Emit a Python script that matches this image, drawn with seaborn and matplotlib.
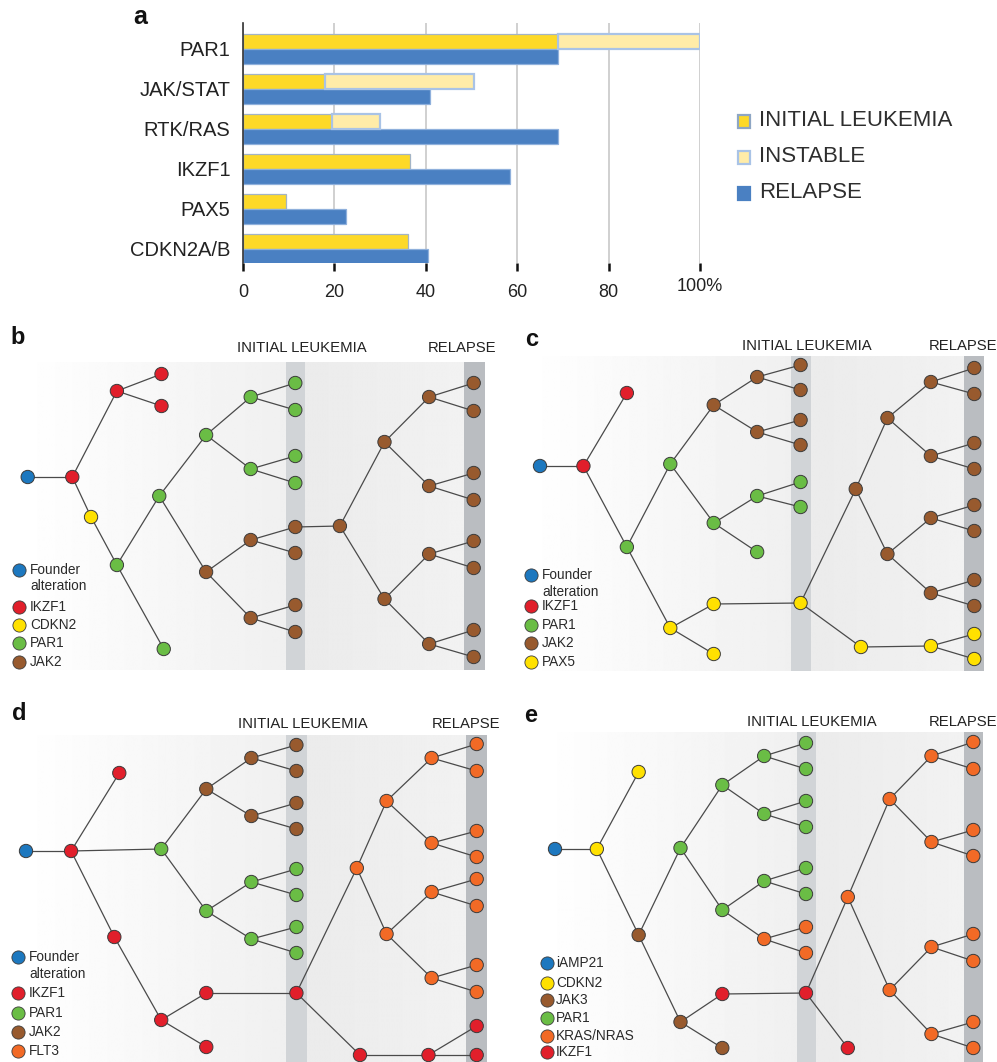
import numpy as np
import pandas as pd
import matplotlib
matplotlib.use("Agg")
import matplotlib.pyplot as plt
import seaborn as sns
from matplotlib.collections import LineCollection
from matplotlib.patches import Rectangle
from matplotlib.transforms import ScaledTranslation

sns.set_theme(style="white")
plt.rcParams['font.family'] = ['Liberation Sans', 'DejaVu Sans']

W, H, DPI = 997, 1062, 100

# ---------------- panel a: alteration frequencies ----------------
pathways = ['PAR1', 'JAK/STAT', 'RTK/RAS', 'IKZF1', 'PAX5', 'CDKN2A/B']
initial_pct = [69, 18, 19.5, 36.5, 9.5, 36]
instable_end_pct = [100, 50.5, 30, 0, 0, 0]      # 0 = no instable segment
relapse_pct = [69, 41, 69, 58.5, 22.5, 40.5]
x_ticks = [0, 20, 40, 60, 80, 100]
x_tick_labels = ['0', '20', '40', '60', '80', '100%']
stage_labels = ['INITIAL LEUKEMIA', 'INSTABLE', 'RELAPSE']

# ---------------- panels b-e: clonal evolution trees ----------------
# node = (generation, vertical position, alteration, parent index)
tree_b = [
    (0, 477, 'Founder', None), (1, 477, 'IKZF1', 0), (2, 391, 'IKZF1', 1),
    (3, 374, 'IKZF1', 2), (3, 406, 'IKZF1', 2), (1.42, 517, 'CDKN2', 1),
    (2, 565, 'PAR1', 5), (3.05, 649, 'PAR1', 6), (2.95, 496, 'PAR1', 6),
    (4, 435, 'PAR1', 8), (5, 397, 'PAR1', 9), (6, 383, 'PAR1', 10),
    (6, 410, 'PAR1', 10), (5, 469, 'PAR1', 9), (6, 456, 'PAR1', 13),
    (6, 483, 'PAR1', 13), (4, 572, 'JAK2', 8), (5, 540, 'JAK2', 16),
    (6, 527, 'JAK2', 17), (6, 553, 'JAK2', 17), (5, 618, 'JAK2', 16),
    (6, 605, 'JAK2', 20), (6, 632, 'JAK2', 20), (7, 526, 'JAK2', 18),
    (8, 442, 'JAK2', 23), (9, 397, 'JAK2', 24), (10, 383, 'JAK2', 25),
    (10, 411, 'JAK2', 25), (9, 486, 'JAK2', 24), (10, 473, 'JAK2', 28),
    (10, 500, 'JAK2', 28), (8, 599, 'JAK2', 23), (9, 554, 'JAK2', 31),
    (10, 541, 'JAK2', 32), (10, 568, 'JAK2', 32), (9, 644, 'JAK2', 31),
    (10, 630, 'JAK2', 35), (10, 657, 'JAK2', 35),
]
tree_c = [
    (0, 466, 'Founder', None), (1, 466, 'IKZF1', 0), (2, 393, 'IKZF1', 1),
    (2, 547, 'PAR1', 1), (3, 464, 'PAR1', 3), (4, 405, 'JAK2', 4),
    (5, 377, 'JAK2', 5), (6, 365, 'JAK2', 6), (6, 390, 'JAK2', 6),
    (5, 432, 'JAK2', 5), (6, 420, 'JAK2', 9), (6, 445, 'JAK2', 9),
    (4, 523, 'PAR1', 4), (5, 496, 'PAR1', 12), (6, 482, 'PAR1', 13),
    (6, 507, 'PAR1', 13), (5, 552, 'PAR1', 12), (3, 628, 'PAX5', 3),
    (4, 604, 'PAX5', 17), (4, 654, 'PAX5', 17), (6, 603, 'PAX5', 18),
    (7.27, 489, 'JAK2', 20), (8, 418, 'JAK2', 21), (9, 382, 'JAK2', 22),
    (10, 368, 'JAK2', 23), (10, 394, 'JAK2', 23), (9, 456, 'JAK2', 22),
    (10, 443, 'JAK2', 26), (10, 469, 'JAK2', 26), (8, 554, 'JAK2', 21),
    (9, 518, 'JAK2', 29), (10, 505, 'JAK2', 30), (10, 531, 'JAK2', 30),
    (9, 593, 'JAK2', 29), (10, 580, 'JAK2', 33), (10, 606, 'JAK2', 33),
    (7.39, 647, 'PAX5', 20), (9, 646, 'PAX5', 36), (10, 634, 'PAX5', 37),
    (10, 659, 'PAX5', 37),
]
tree_d = [
    (0, 851, 'Founder', None), (1, 851, 'IKZF1', 0), (2.07, 773, 'IKZF1', 1),
    (3, 849, 'PAR1', 1), (4, 789, 'JAK2', 3), (5, 758, 'JAK2', 4),
    (6, 745, 'JAK2', 5), (6, 771, 'JAK2', 5), (5, 816, 'JAK2', 4),
    (6, 803, 'JAK2', 8), (6, 829, 'JAK2', 8), (4, 911, 'PAR1', 3),
    (5, 882, 'PAR1', 11), (6, 869, 'PAR1', 12), (6, 895, 'PAR1', 12),
    (5, 939, 'PAR1', 11), (6, 927, 'PAR1', 15), (6, 953, 'PAR1', 15),
    (1.96, 937, 'IKZF1', 1), (3, 1020, 'IKZF1', 18), (4, 993, 'IKZF1', 19),
    (4, 1047, 'IKZF1', 19), (6, 993, 'IKZF1', 20), (7.34, 868, 'FLT3', 22),
    (8, 801, 'FLT3', 23), (9, 758, 'FLT3', 24), (10, 744, 'FLT3', 25),
    (10, 771, 'FLT3', 25), (9, 843, 'FLT3', 24), (10, 831, 'FLT3', 28),
    (10, 857, 'FLT3', 28), (8, 934, 'FLT3', 23), (9, 892, 'FLT3', 31),
    (10, 879, 'FLT3', 32), (10, 906, 'FLT3', 32), (9, 978, 'FLT3', 31),
    (10, 965, 'FLT3', 35), (10, 992, 'FLT3', 35), (7.41, 1055, 'IKZF1', 22),
    (8.93, 1055, 'IKZF1', 38), (10, 1026, 'IKZF1', 39), (10, 1055, 'IKZF1', 39),
]
tree_e = [
    (0, 849, 'iAMP21', None), (1, 849, 'CDKN2', 0), (2, 772, 'CDKN2', 1),
    (2, 935, 'JAK3', 1), (3, 848, 'PAR1', 3), (4, 785, 'PAR1', 4),
    (5, 756, 'PAR1', 5), (6, 743, 'PAR1', 6), (6, 769, 'PAR1', 6),
    (5, 814, 'PAR1', 5), (6, 801, 'PAR1', 9), (6, 827, 'PAR1', 9),
    (4, 910, 'PAR1', 4), (5, 881, 'PAR1', 12), (6, 868, 'PAR1', 13),
    (6, 894, 'PAR1', 13), (5, 939, 'KRAS/NRAS', 12), (6, 927, 'KRAS/NRAS', 16),
    (6, 953, 'KRAS/NRAS', 16), (3, 1022, 'JAK3', 3), (4, 994, 'IKZF1', 19),
    (4, 1048, 'JAK3', 19), (6, 993, 'IKZF1', 20), (7, 897, 'KRAS/NRAS', 22),
    (7, 1048, 'IKZF1', 22), (8, 799, 'KRAS/NRAS', 23), (9, 756, 'KRAS/NRAS', 25),
    (10, 742, 'KRAS/NRAS', 26), (10, 769, 'KRAS/NRAS', 26), (9, 842, 'KRAS/NRAS', 25),
    (10, 830, 'KRAS/NRAS', 29), (10, 856, 'KRAS/NRAS', 29), (8, 990, 'KRAS/NRAS', 23),
    (9, 947, 'KRAS/NRAS', 32), (10, 934, 'KRAS/NRAS', 33), (10, 961, 'KRAS/NRAS', 33),
    (9, 1034, 'KRAS/NRAS', 32), (10, 1022, 'KRAS/NRAS', 36), (10, 1048, 'KRAS/NRAS', 36),
]
legend_b = [('Founder', 'Founder\nalteration'), ('IKZF1', 'IKZF1'), ('CDKN2', 'CDKN2'),
            ('PAR1', 'PAR1'), ('JAK2', 'JAK2')]
legend_c = [('Founder', 'Founder\nalteration'), ('IKZF1', 'IKZF1'), ('PAR1', 'PAR1'),
            ('JAK2', 'JAK2'), ('PAX5', 'PAX5')]
legend_d = [('Founder', 'Founder\nalteration'), ('IKZF1', 'IKZF1'), ('PAR1', 'PAR1'),
            ('JAK2', 'JAK2'), ('FLT3', 'FLT3')]
legend_e = [('iAMP21', 'iAMP21'), ('CDKN2', 'CDKN2'), ('JAK3', 'JAK3'),
            ('PAR1', 'PAR1'), ('KRAS/NRAS', 'KRAS/NRAS'), ('IKZF1', 'IKZF1')]

gene_colors = {
    'Founder': '#1d78bf', 'iAMP21': '#1d78bf', 'IKZF1': '#e11f2b',
    'CDKN2': '#ffe100', 'PAX5': '#ffe100', 'PAR1': '#6abd45',
    'JAK2': '#985a2e', 'JAK3': '#985a2e', 'FLT3': '#f26a26', 'KRAS/NRAS': '#f26a26',
}

# panel geometry in figure pixels
panels = [
    dict(tree=tree_b, legend=legend_b, letter='b', letter_xy=(18, 338),
         x0=27.7, step=44.6, bg=(20, 362, 670), init=(286, 305), rel=(464, 485),
         head_y=348, head_init=302, head_rel=462,
         leg_mx=19, leg_tx=30, leg_y=[570, 607, 625, 643, 662]),
    dict(tree=tree_c, legend=legend_c, letter='c', letter_xy=(532, 340),
         x0=540, step=43.43, bg=(525, 356, 671), init=(791, 811), rel=(964, 984),
         head_y=346, head_init=807, head_rel=963,
         leg_mx=531, leg_tx=542, leg_y=[575, 606, 625, 643, 662]),
    dict(tree=tree_d, legend=legend_d, letter='d', letter_xy=(19, 714),
         x0=26, step=45.07, bg=(20, 735, 1062), init=(286, 307), rel=(466, 487),
         head_y=724, head_init=303, head_rel=466,
         leg_mx=18, leg_tx=29, leg_y=[957, 993, 1013, 1032, 1051]),
    dict(tree=tree_e, legend=legend_e, letter='e', letter_xy=(531, 715),
         x0=555, step=41.83, bg=(540, 732, 1062), init=(797, 816), rel=(964, 983),
         head_y=722, head_init=812, head_rel=963,
         leg_mx=547, leg_tx=556, leg_y=[963, 983, 1000, 1018, 1036, 1052]),
]


def fig_rect(x0, y0, x1, y1):
    return [x0 / W, 1 - y1 / H, (x1 - x0) / W, (y1 - y0) / H]


fig = plt.figure(figsize=(W / DPI, H / DPI), dpi=DPI)
fig.patch.set_facecolor('white')

# full-figure canvas in pixel units for the trees and the legend of panel a
canvas = fig.add_axes([0, 0, 1, 1])


def gradient(ax, x0, x1, y0, y1, g0, g1):
    arr = np.linspace(g0, g1, 256)[None, :]
    ax.imshow(arr, cmap='gray', vmin=0, vmax=1, extent=(x0, x1, y1, y0),
              aspect='auto', interpolation='bilinear', zorder=0)


node_rows = []
segments = []
for p in panels:
    bx0, by0, by1 = p['bg']
    il, ir = p['init']
    rl, rr = p['rel']
    gradient(canvas, bx0, il, by0, by1, 1.0, 0.94)
    canvas.add_patch(Rectangle((il, by0), ir - il, by1 - by0, color='#d1d4d7', zorder=0.5, lw=0))
    gradient(canvas, ir, rl, by0, by1, 0.922, 0.948)
    canvas.add_patch(Rectangle((rl, by0), rr - rl, by1 - by0, color='#babdc1', zorder=0.5, lw=0))

    xs = [p['x0'] + g * p['step'] for g, _, _, _ in p['tree']]
    for i, (g, y, gene, parent) in enumerate(p['tree']):
        node_rows.append(dict(px=xs[i], py=y, gene=gene))
        if parent is not None:
            segments.append([(xs[parent], p['tree'][parent][1]), (xs[i], y)])

    canvas.text(*p['letter_xy'], p['letter'], fontsize=17, fontweight='bold',
                ha='center', va='center', color='#111')
    canvas.text(p['head_init'], p['head_y'], 'INITIAL LEUKEMIA', fontsize=10.7,
                ha='center', va='center', color='#222')
    canvas.text(p['head_rel'], p['head_y'], 'RELAPSE', fontsize=10.7,
                ha='center', va='center', color='#222')

    for (gene, label), y in zip(p['legend'], p['leg_y']):
        canvas.scatter([p['leg_mx']], [y], s=90, color=gene_colors[gene],
                       edgecolor='#3b3b3b', linewidth=0.6, zorder=4)
        for k, line in enumerate(label.split('\n')):
            canvas.text(p['leg_tx'], y + k * 16.5, line, fontsize=9.8,
                        ha='left', va='center', color='#2a2a2a')

canvas.add_collection(LineCollection(segments, colors='#4a4a4a', linewidths=0.9, zorder=2))

nodes = pd.DataFrame(node_rows)
palette = {g: gene_colors[g] for g in nodes['gene'].unique()}
sns.scatterplot(data=nodes, x='px', y='py', hue='gene', palette=palette, s=92,
                edgecolor='#3b3b3b', linewidth=0.7, legend=False, ax=canvas, zorder=4)

# legend of panel a
stage_fill = ['#fdd928', '#ffeca8', '#4a80c2']
stage_edge = ['#8ea6c4', '#a9c3e6', '#4a80c2']
for label, fc, ec, y in zip(stage_labels, stage_fill, stage_edge, [121, 157, 193]):
    canvas.add_patch(Rectangle((737.5, y - 6.5), 12.5, 13, facecolor=fc, edgecolor=ec,
                               linewidth=1.6, zorder=3))
    canvas.text(759, y, label, fontsize=16, ha='left', va='center', color='#2e2e2e')
canvas.text(140, 17, 'a', fontsize=18, fontweight='bold', ha='center', va='center', color='#111')

canvas.set_xlim(0, W)
canvas.set_ylim(H, 0)
canvas.axis('off')

# ---------------- panel a bars ----------------
ax = fig.add_axes(fig_rect(243, 23, 700, 263))
bars = pd.DataFrame({
    'pathway': pathways * 2,
    'stage': ['INITIAL LEUKEMIA'] * len(pathways) + ['RELAPSE'] * len(pathways),
    'pct': initial_pct + relapse_pct,
})
sns.barplot(data=bars, y='pathway', x='pct', hue='stage', order=pathways,
            hue_order=['INITIAL LEUKEMIA', 'RELAPSE'],
            palette={'INITIAL LEUKEMIA': '#fdd928', 'RELAPSE': '#4a80c2'},
            orient='h', width=0.75, dodge=True, saturation=1, legend=False,
            ax=ax, zorder=2)
for cont, ec in zip(ax.containers, ['#a3b4c6', '#8fb0dc']):
    for patch in cont:
        patch.set_edgecolor(ec)
        patch.set_linewidth(0.9)

for i, (start, end) in enumerate(zip(initial_pct, instable_end_pct)):
    if end > start:
        ax.barh(i - 0.1875, end - start, left=start, height=0.375,
                color='#ffeca8', edgecolor='#a9c3e6', linewidth=1.6, zorder=2)

ax.set_xlim(0, 100)
ax.set_ylim(5.35, -0.65)
ax.set_xlabel('')
ax.set_ylabel('')
ax.set_facecolor('none')
ax.set_axisbelow(True)
ax.xaxis.grid(True, color='#c8c8c8', linewidth=1.2)
ax.yaxis.grid(False)
for side in ['top', 'right', 'bottom']:
    ax.spines[side].set_visible(False)
ax.spines['left'].set_color('#333333')
ax.spines['left'].set_linewidth(1.2)
ax.set_xticks(x_ticks, labels=x_tick_labels)
ax.tick_params(axis='x', bottom=True, length=6, width=1.8, color='#111', pad=9,
               labelsize=13, labelcolor='#222')
ax.tick_params(axis='y', left=False, length=0, pad=9, labelsize=14.5, labelcolor='#222')
last = ax.get_xticklabels()[-1]
last.set_transform(last.get_transform() + ScaledTranslation(0, 0.06, fig.dpi_scale_trans))

fig.savefig('out.png', dpi=DPI, facecolor='white')
